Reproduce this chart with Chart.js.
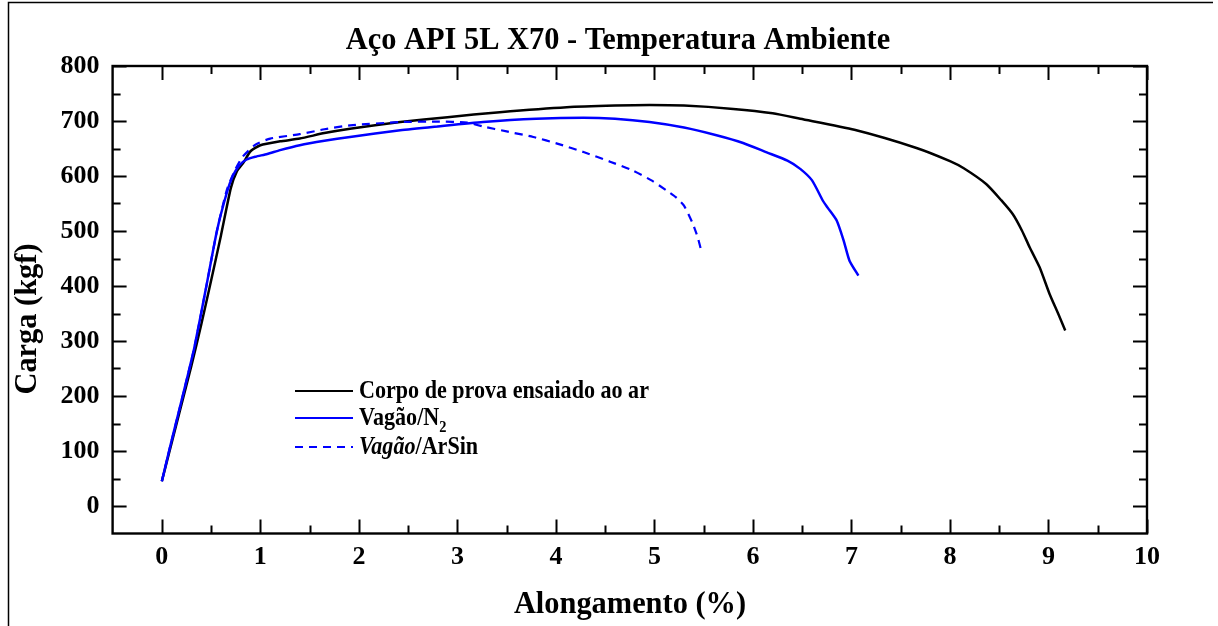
<!DOCTYPE html>
<html>
<head>
<meta charset="utf-8">
<script src="https://cdn.jsdelivr.net/npm/chart.js@4.4.1/dist/chart.umd.min.js"></script>
<style>
  html, body { margin: 0; padding: 0; background: #fff; }
  canvas { display: block; }
</style>
</head>
<body>
<canvas id="ensaio" width="1218" height="626"></canvas>
<script>
// Corpo de prova ensaiado ao ar
const alongAr = [0, 0.10, 0.20, 0.30, 0.40, 0.50, 0.60, 0.70, 0.76, 0.83, 0.90, 1.00, 1.20, 1.40, 1.65, 1.91, 2.42, 2.90, 3.43, 4.11, 4.60, 4.95, 5.30, 5.80, 6.20, 6.48, 7.03, 7.66, 8.00, 8.14, 8.37, 8.52, 8.64, 8.73, 8.81, 8.91, 9.01, 9.10, 9.17];
const cargaAr = [45, 115, 185, 255, 330, 410, 492, 578, 608, 625, 645, 656, 663, 668, 678, 686, 698, 707, 716, 725, 728, 729, 728, 722, 714, 704, 684, 651, 627, 614, 585, 556, 530, 501, 470, 434, 386, 349, 319];

// Vagão/N2
const alongN2 = [0, 0.08, 0.17, 0.25, 0.33, 0.45, 0.56, 0.66, 0.72, 0.79, 0.86, 0.95, 1.07, 1.20, 1.40, 1.65, 1.91, 2.42, 2.80, 3.26, 3.80, 4.28, 4.60, 4.95, 5.30, 5.63, 5.90, 6.14, 6.35, 6.48, 6.60, 6.71, 6.76, 6.85, 6.92, 6.98, 7.07];
const cargaN2 = [45, 105, 170, 228, 288, 398, 501, 570, 600, 620, 630, 635, 640, 647, 656, 664, 671, 683, 690, 698, 704, 706, 704, 698, 688, 674, 660, 643, 628, 613, 592, 555, 542, 519, 483, 446, 419];

// Vagão/ArSin
const alongArSin = [0, 0.08, 0.17, 0.25, 0.33, 0.45, 0.56, 0.66, 0.74, 0.82, 0.95, 1.10, 1.40, 1.65, 1.91, 2.42, 2.80, 3.10, 3.26, 3.50, 3.77, 4.03, 4.28, 4.55, 4.78, 4.97, 5.12, 5.22, 5.30, 5.39, 5.44, 5.48];
const cargaArSin = [45, 105, 170, 228, 288, 398, 501, 575, 610, 635, 657, 668, 676, 685, 692, 698, 699, 697, 690, 681, 671, 658, 643.5, 626, 610, 592, 574, 561, 546, 513, 488, 461];

// marcas dos eixos
const xMaior = [0, 1, 2, 3, 4, 5, 6, 7, 8, 9, 10];
const xMenor = [0.5, 1.5, 2.5, 3.5, 4.5, 5.5, 6.5, 7.5, 8.5, 9.5];
const yMaior = [0, 100, 200, 300, 400, 500, 600, 700, 800];
const yMenor = [50, 150, 250, 350, 450, 550, 650, 750];

const FONTE = '"Liberation Serif", "Times New Roman", serif';

function pontos(xs, ys) {
    return xs.map((v, i) => ({ x: v, y: ys[i] }));
}

// texto condensado, como no Origin
function texto(ctx, str, x, y, font, sx, align) {
    ctx.save();
    ctx.font = font;
    const w = ctx.measureText(str).width * sx;
    let x0 = x;
    if (align === 'center') x0 = x - w / 2;
    ctx.translate(x0, y);
    ctx.scale(sx, 1);
    ctx.textAlign = 'left';
    ctx.fillText(str, 0, 0);
    ctx.restore();
    return w;
}

const molduraPlugin = {
    id: 'moldura',
    afterDraw(chart) {
        const { ctx, chartArea: a, scales: { x, y } } = chart;
        ctx.save();
        ctx.strokeStyle = '#000';
        ctx.fillStyle = '#000';

        // borda externa
        ctx.lineWidth = 1.5;
        ctx.beginPath();
        ctx.moveTo(8.5, 626);
        ctx.lineTo(8.5, 2.5);
        ctx.lineTo(1213, 2.5);
        ctx.stroke();

        // caixa dos eixos
        ctx.lineWidth = 2.4;
        ctx.strokeRect(a.left, a.top, a.right - a.left, a.bottom - a.top);

        // marcas para dentro
        ctx.lineWidth = 2;
        ctx.beginPath();
        const marcaX = (v, len) => {
            const p = Math.round(x.getPixelForValue(v)) + 0.5;
            ctx.moveTo(p, a.bottom); ctx.lineTo(p, a.bottom - len);
            ctx.moveTo(p, a.top); ctx.lineTo(p, a.top + len);
        };
        const marcaY = (v, len) => {
            const p = Math.round(y.getPixelForValue(v)) + 0.5;
            ctx.moveTo(a.left, p); ctx.lineTo(a.left + len, p);
            ctx.moveTo(a.right, p); ctx.lineTo(a.right - len, p);
        };
        xMaior.forEach(v => marcaX(v, 14));
        xMenor.forEach(v => marcaX(v, 8));
        yMaior.forEach(v => marcaY(v, 14));
        yMenor.forEach(v => marcaY(v, 8));
        ctx.stroke();

        // títulos
        ctx.textBaseline = 'middle';
        texto(ctx, 'Aço API 5L X70 - Temperatura Ambiente', 618, 41, 'bold 32px ' + FONTE, 0.95, 'center');
        texto(ctx, 'Alongamento (%)', 630, 605, 'bold 32px ' + FONTE, 0.95, 'center');
        ctx.save();
        ctx.translate(28, 319);
        ctx.rotate(-Math.PI / 2);
        texto(ctx, 'Carga (kgf)', 0, 0, 'bold 32px ' + FONTE, 0.95, 'center');
        ctx.restore();

        // legenda
        const sx = 0.85;
        const fN = 'bold 26px ' + FONTE;
        const fI = 'italic bold 26px ' + FONTE;
        const fS = 'bold 17px ' + FONTE;
        const itens = [
            { y: 391, cor: '#000000', traco: [], partes: [[fN, 'Corpo de prova ensaiado ao ar', 0]] },
            { y: 418, cor: '#0000ff', traco: [], partes: [[fN, 'Vagão/N', 0], [fS, '2', 7]] },
            { y: 447, cor: '#0000ff', traco: [8, 6], partes: [[fI, 'Vagão', 0], [fN, '/ArSin', 0]] }
        ];
        ctx.textBaseline = 'alphabetic';
        itens.forEach(it => {
            ctx.beginPath();
            ctx.strokeStyle = it.cor;
            ctx.lineWidth = 2.2;
            ctx.setLineDash(it.traco);
            ctx.moveTo(295, it.y);
            ctx.lineTo(353, it.y);
            ctx.stroke();
            ctx.setLineDash([]);
            let px = 359;
            it.partes.forEach(([f, s, dy]) => {
                px += texto(ctx, s, px, it.y + 7 + dy, f, sx, 'left');
            });
        });
        ctx.restore();
    }
};

new Chart(document.getElementById('ensaio').getContext('2d'), {
    type: 'line',
    data: {
        datasets: [
            {
                label: 'Corpo de prova ensaiado ao ar',
                data: pontos(alongAr, cargaAr),
                borderColor: '#000000',
                borderWidth: 2.5,
                pointRadius: 0,
                tension: 0.2,
                order: 3
            },
            {
                label: 'Vagão/N2',
                data: pontos(alongN2, cargaN2),
                borderColor: '#0000ff',
                borderWidth: 2.5,
                pointRadius: 0,
                tension: 0.2,
                order: 2
            },
            {
                label: 'Vagão/ArSin',
                data: pontos(alongArSin, cargaArSin),
                borderColor: '#0000ff',
                borderWidth: 2.2,
                borderDash: [8, 6],
                pointRadius: 0,
                tension: 0.2,
                order: 1
            }
        ]
    },
    options: {
        responsive: false,
        animation: false,
        devicePixelRatio: 1,
        layout: { padding: { left: 0, top: 66, right: 71, bottom: 0 } },
        plugins: {
            legend: { display: false },
            tooltip: { enabled: false },
            title: { display: false }
        },
        scales: {
            x: {
                type: 'linear',
                min: -0.5,
                max: 10,
                grid: { display: false, drawTicks: false },
                border: { display: false },
                ticks: {
                    stepSize: 1,
                    includeBounds: false,
                    padding: 8,
                    color: '#000',
                    font: { family: FONTE, weight: 'bold', size: 26 },
                    maxRotation: 0
                },
                afterFit(scale) { scale.height = 92.5; }
            },
            y: {
                type: 'linear',
                min: -50,
                max: 800,
                grid: { display: false, drawTicks: false },
                border: { display: false },
                ticks: {
                    stepSize: 100,
                    includeBounds: false,
                    padding: 13,
                    color: '#000',
                    font: { family: FONTE, weight: 'bold', size: 26 }
                },
                afterFit(scale) { scale.width = 112.6; }
            }
        }
    },
    plugins: [molduraPlugin]
});
</script>
</body>
</html>
